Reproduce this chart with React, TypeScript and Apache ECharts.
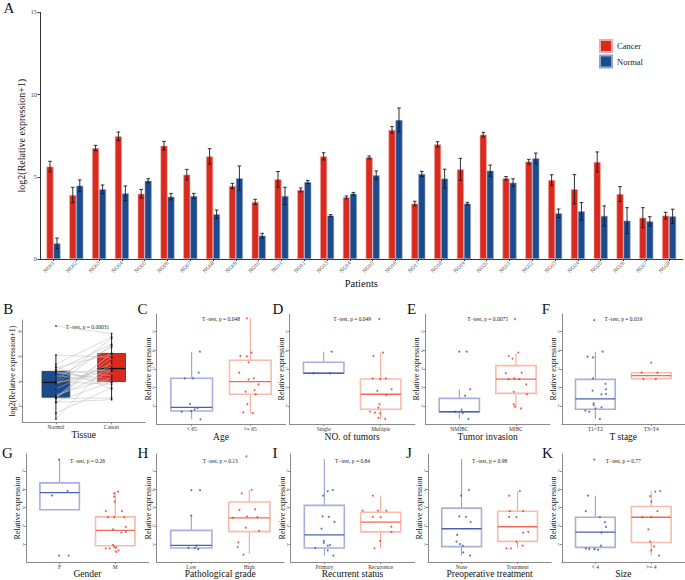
import React, { useEffect, useRef } from "react";
import * as echarts from "echarts";

const FONT = "'Liberation Serif', 'DejaVu Serif', serif";

// ---------- Panel A data ----------
const patients = ["NO01","NO02","NO03","NO04","NO05","NO06","NO07","NO08","NO09","NO10","NO11","NO12","NO13","NO14","NO15","NO16","NO17","NO18","NO19","NO20","NO21","NO22","NO23","NO24","NO25","NO26","NO27","NO28"];
const cancerMean = [5.62, 3.89, 6.75, 7.46, 3.97, 6.89, 5.13, 6.24, 4.44, 3.47, 4.85, 4.20, 6.24, 3.75, 6.18, 7.85, 3.37, 6.97, 5.45, 7.56, 4.91, 5.92, 4.80, 4.24, 5.90, 3.95, 2.51, 2.64];
const cancerErr = [0.32, 0.47, 0.16, 0.26, 0.26, 0.26, 0.32, 0.47, 0.16, 0.16, 0.47, 0.12, 0.22, 0.08, 0.08, 0.20, 0.14, 0.16, 0.67, 0.14, 0.10, 0.14, 0.32, 0.89, 0.61, 0.45, 0.61, 0.20];
const normalMean = [0.95, 4.46, 4.24, 3.99, 4.76, 3.79, 3.83, 2.72, 4.91, 1.42, 3.83, 4.68, 2.64, 3.97, 5.09, 8.45, 5.17, 4.89, 3.37, 5.37, 4.64, 6.12, 2.78, 2.90, 2.62, 2.33, 2.29, 2.60];
const normalErr = [0.32, 0.35, 0.26, 0.45, 0.12, 0.20, 0.16, 0.26, 0.75, 0.14, 0.53, 0.10, 0.06, 0.08, 0.26, 0.73, 0.16, 0.57, 0.08, 0.34, 0.24, 0.32, 0.26, 0.53, 0.61, 0.79, 0.28, 0.43];
const aTicks = [0, 5, 10, 15];

// ---------- Panel B ----------
const tissueGroups = ["Normal", "Cancer"];
const tissueTicks = [2, 4, 6, 8];

// ---------- Panels C-K: box stats [min, Q1, median, Q3, max] and points [x, y] ----------
const ageGroups = ["< 65", ">= 65"];
const ageBoxes = [[0.28, 0.73, 0.93, 2.49, 3.92], [0.61, 1.63, 2.31, 3.46, 5.71]];
const ageLowPts = [[1.14,3.92],[1.12,2.79],[0.88,2.49],[1.02,2.49],[0.97,1.11],[0.83,0.69],[1.05,0.82],[1.10,0.88],[0.99,0.72],[1.15,0.28]];
const ageHighPts = [[1.94,5.71],[1.83,3.70],[1.94,3.67],[2.02,3.87],[1.97,3.35],[1.81,2.79],[1.97,2.43],[2.06,2.49],[1.92,1.77],[2.07,1.86],[2.14,2.16],[2.09,1.63],[1.95,1.10],[1.88,0.66],[2.04,0.61]];

const tumorGroups = ["Single", "Multiple"];
const tumorBoxes = [[2.76, 2.76, 2.76, 3.35, 3.92], [0.30, 0.82, 1.63, 2.45, 3.87]];
const tumorSinglePts = [[1.14,3.92],[0.82,2.76],[1.11,2.76]];
const tumorMultiPts = [[1.975,5.68],[1.87,3.69],[2.04,3.87],[1.86,2.49],[1.99,2.45],[2.09,2.49],[1.94,1.81],[2.19,1.90],[2.10,1.59],[1.98,1.09],[1.96,0.91],[1.81,0.70],[1.90,0.64],[1.99,0.60],[2.08,0.30],[1.96,0.36]];

const invasionGroups = ["NMIBC", "MIBC"];
const invasionBoxes = [[0.30, 0.69, 0.69, 1.41, 1.90], [0.87, 1.68, 2.45, 3.17, 3.83]];
const invasionNmibcPts = [[1.00,3.92],[1.13,3.92],[1.19,1.90],[1.10,1.55],[1.04,0.80],[1.06,0.62],[0.92,0.69],[1.16,0.30]];
const invasionMibcPts = [[1.98,5.68],[1.87,3.69],[2.04,3.87],[1.94,3.55],[1.82,2.76],[2.10,2.79],[1.87,2.45],[1.97,2.49],[2.06,2.45],[2.18,2.16],[1.96,1.77],[2.19,1.63],[1.96,1.09],[1.98,0.96],[2.09,0.87]];

const stageGroups = ["T1~T2", "T3~T4"];
const stageBoxes = [[0.30, 0.82, 1.38, 2.43, 3.92], [2.45, 2.47, 2.63, 2.79, 2.79]];
const stageLowPts = [[0.98,5.62],[0.86,3.65],[0.96,3.61],[1.13,3.92],[0.96,2.49],[1.18,2.19],[0.95,1.83],[1.19,1.90],[1.11,1.63],[1.19,1.65],[0.97,1.14],[0.97,1.05],[1.11,0.93],[1.00,0.87],[0.82,0.75],[0.89,0.69],[1.08,0.30]];
const stageHighPts = [[2.00,3.33],[1.83,2.79],[2.11,2.79],[1.86,2.45],[2.08,2.45]];

const genderGroups = ["F", "M"];
const genderBoxes = [[2.88, 2.88, 3.82, 4.35, 5.62], [0.57, 0.91, 1.75, 2.49, 3.87]];
const genderFPts = [[0.99,5.62],[0.86,3.66],[1.14,3.91],[0.99,0.37],[1.16,0.37]];
const genderMPts = [[2.05,3.87],[1.98,3.78],[1.98,3.60],[1.99,3.33],[1.83,2.80],[2.12,2.80],[1.87,2.47],[1.98,2.47],[2.16,2.47],[2.19,1.94],[1.96,1.81],[2.11,1.63],[2.19,1.67],[1.96,0.96],[1.98,0.84],[1.83,0.77],[1.90,0.77],[2.02,0.82],[2.06,0.66],[2.02,0.57]];

const gradeGroups = ["Low", "High"];
const gradeBoxes = [[0.79, 0.79, 0.93, 1.75, 2.56], [0.46, 1.68, 2.44, 3.30, 3.96]];
const gradeLowPts = [[1.00,3.95],[1.15,3.95],[1.00,2.56],[1.09,0.91],[1.06,0.79],[0.95,0.80],[1.12,0.72]];
const gradeHighPts = [[1.95,5.80],[1.87,3.78],[2.04,3.96],[1.83,2.87],[2.10,2.90],[1.72,2.44],[1.96,2.50],[2.14,2.47],[1.94,1.90],[2.17,1.72],[1.81,1.09],[1.80,0.83],[1.90,0.42]];

const recurGroups = ["Primary", "Recurrence"];
const recurBoxes = [[0.37, 0.79, 1.50, 3.12, 5.66], [0.77, 1.67, 2.20, 2.74, 3.65]];
const recurPrimaryPts = [[0.98,3.65],[1.06,3.90],[1.15,3.96],[0.97,2.52],[1.08,2.49],[1.18,2.22],[0.95,1.84],[0.99,1.18],[0.99,1.06],[1.06,0.91],[1.10,0.95],[0.84,0.78],[1.06,0.66],[1.16,0.37]];
const recurRecurPts = [[1.86,3.65],[1.68,2.83],[1.95,2.83],[2.10,2.83],[1.86,2.49],[2.00,2.47],[2.19,1.95],[2.19,1.67],[1.99,1.18],[1.89,0.77]];

const treatGroups = ["None", "Treatment"];
const treatBoxes = [[0.37, 0.86, 1.84, 2.97, 5.66], [0.77, 1.15, 1.95, 2.80, 3.90]];
const treatNonePts = [[1.13,3.96],[0.99,3.65],[0.96,2.52],[1.08,2.49],[1.16,2.20],[0.92,1.50],[0.91,1.13],[0.97,1.00],[1.02,0.91],[1.03,0.55],[1.15,0.37]];
const treatYesPts = [[1.85,3.65],[2.04,3.90],[1.85,2.49],[1.98,2.47],[2.10,2.80],[1.86,2.80],[2.19,1.67],[2.10,1.63],[1.98,1.13],[2.09,0.91],[1.80,0.77],[1.88,0.77]];

const sizeGroups = ["< 4", ">= 4"];
const sizeBoxes = [[0.68, 0.82, 1.66, 2.47, 3.65], [0.37, 1.09, 2.47, 3.06, 3.90]];
const sizeSmallPts = [[0.98,5.62],[0.87,3.65],[0.83,2.80],[1.08,2.47],[1.17,2.20],[1.19,1.94],[1.11,1.63],[1.10,0.91],[0.83,0.76],[0.89,0.73],[0.98,0.73],[1.05,0.68]];
const sizeLargePts = [[2.16,3.90],[2.07,3.87],[1.98,3.63],[2.00,3.33],[2.11,2.80],[1.84,2.47],[2.00,2.49],[1.95,1.81],[1.98,1.13],[2.05,0.88],[2.00,0.65],[2.14,0.37]];

const smallTicks = [1, 2, 3, 4, 5];

// ---------- colours ----------
const RED = "#d92a1f";
const BLUE = "#1c4b8d";
const blueStyle = { edge: "#a9afdc", median: "#4d60ae", whisker: "#8f97d0", point: "#3f55a5", fill: "#ffffff" };
const redStyle = { edge: "#f6bcad", median: "#ef6b55", whisker: "#f3a08d", point: "#e5392b", fill: "#ffffff" };

function quantile(s: number[], p: number) {
  const h = (s.length - 1) * p;
  const lo = Math.floor(h);
  const hiV = s[Math.min(lo + 1, s.length - 1)];
  return s[lo] + (h - lo) * (hiV - s[lo]);
}
function boxStats(vals: number[]) {
  const s = [...vals].sort((a, b) => a - b);
  const q1 = quantile(s, 0.25), med = quantile(s, 0.5), q3 = quantile(s, 0.75);
  const iqr = q3 - q1;
  const lo = s.find((v) => v >= q1 - 1.5 * iqr) as number;
  const hi = [...s].reverse().find((v) => v <= q3 + 1.5 * iqr) as number;
  return [lo, q1, med, q3, hi];
}

function boxRenderer(boxWidth: number, styles: any[], lw: number) {
  return (params: any, api: any) => {
    const x = api.value(0);
    const st = styles[params.dataIndex];
    const pLo = api.coord([x, api.value(1)]);
    const pQ1 = api.coord([x, api.value(2)]);
    const pMed = api.coord([x, api.value(3)]);
    const pQ3 = api.coord([x, api.value(4)]);
    const pHi = api.coord([x, api.value(5)]);
    const hw = api.size([boxWidth, 0])[0] / 2;
    const ws = { stroke: st.whisker, lineWidth: 1 };
    return {
      type: "group",
      children: [
        { type: "line", shape: { x1: pHi[0], y1: pHi[1], x2: pQ3[0], y2: pQ3[1] }, style: ws },
        { type: "line", shape: { x1: pQ1[0], y1: pQ1[1], x2: pLo[0], y2: pLo[1] }, style: ws },
        { type: "rect", shape: { x: pQ3[0] - hw, y: pQ3[1], width: hw * 2, height: Math.max(pQ1[1] - pQ3[1], 0.5) }, style: { fill: st.fill, stroke: st.edge, lineWidth: lw } },
        { type: "line", shape: { x1: pMed[0] - hw, y1: pMed[1], x2: pMed[0] + hw, y2: pMed[1] }, style: { stroke: st.median, lineWidth: 1.3 } },
      ],
    };
  };
}

function errRenderer(dx: number) {
  return (params: any, api: any) => {
    const x = api.value(0), v = api.value(1), e = api.value(2);
    const t = api.coord([x, v + e]);
    const b = api.coord([x, v - e]);
    const cx = t[0] + dx;
    const style = { stroke: "#1a1a1a", lineWidth: 0.9 };
    return {
      type: "group",
      children: [
        { type: "line", shape: { x1: cx, y1: t[1], x2: cx, y2: b[1] }, style },
        { type: "line", shape: { x1: cx - 1.8, y1: t[1], x2: cx + 1.8, y2: t[1] }, style },
        { type: "line", shape: { x1: cx - 1.8, y1: b[1], x2: cx + 1.8, y2: b[1] }, style },
      ],
    };
  };
}

// layout of small panels
const smallPanels = [
  { letter: "C", groups: ageGroups, boxes: ageBoxes, p1: ageLowPts, p2: ageHighPts, title: "Age", p: "0.048", left: 156.5, width: 129, row: 0 },
  { letter: "D", groups: tumorGroups, boxes: tumorBoxes, p1: tumorSinglePts, p2: tumorMultiPts, title: "NO. of tumors", p: "0.049", left: 289.5, width: 125.4, row: 0 },
  { letter: "E", groups: invasionGroups, boxes: invasionBoxes, p1: invasionNmibcPts, p2: invasionMibcPts, title: "Tumor invasion", p: "0.0075", left: 425.3, width: 124.7, row: 0 },
  { letter: "F", groups: stageGroups, boxes: stageBoxes, p1: stageLowPts, p2: stageHighPts, title: "T stage", p: "0.019", left: 561.8, width: 123, row: 0 },
  { letter: "G", groups: genderGroups, boxes: genderBoxes, p1: genderFPts, p2: genderMPts, title: "Gender", p: "0.26", left: 26.3, width: 122.3, row: 1 },
  { letter: "H", groups: gradeGroups, boxes: gradeBoxes, p1: gradeLowPts, p2: gradeHighPts, title: "Pathological grade", p: "0.13", left: 156.5, width: 127.6, row: 1 },
  { letter: "I", groups: recurGroups, boxes: recurBoxes, p1: recurPrimaryPts, p2: recurRecurPts, title: "Recurrent status", p: "0.84", left: 290.5, width: 124, row: 1 },
  { letter: "J", groups: treatGroups, boxes: treatBoxes, p1: treatNonePts, p2: treatYesPts, title: "Preoperative treatment", p: "0.98", left: 428, width: 123.2, row: 1 },
  { letter: "K", groups: sizeGroups, boxes: sizeBoxes, p1: sizeSmallPts, p2: sizeLargePts, title: "Size", p: "0.77", left: 561.8, width: 123, row: 1 },
];
const rows = [
  { top: 314, height: 110, min: 0.03, max: 5.95, letterY: 308.5, pY: 318.5, nameGap: 7.5 },
  { top: 454, height: 110.5, min: 0.02, max: 5.93, letterY: 453, pY: 461, nameGap: 7 },
];
const letterX: Record<string, number> = { C: 142.5, D: 278, E: 411.7, F: 546, G: 7.5, H: 143, I: 275, J: 409, K: 547.5 };

function smallXAxis(gridIndex: number, groups: string[], title: string, nameGap: number) {
  return {
    gridIndex, type: "value", min: 0.4, max: 2.6,
    name: title, nameLocation: "middle", nameGap, nameMoveOverlap: false,
    nameTextStyle: { fontFamily: FONT, fontSize: 9.5, color: "#111" },
    axisLine: { show: true, lineStyle: { color: "#8a8a8a", width: 1 } },
    axisTick: { show: true, length: 2, customValues: [1, 2], lineStyle: { color: "#8a8a8a" } },
    axisLabel: { customValues: [1, 2], formatter: (v: number) => groups[Math.round(v) - 1], fontFamily: FONT, fontSize: 5.5, color: "#333", margin: 1.5 },
    splitLine: { show: false },
  };
}
function smallYAxis(gridIndex: number, min: number, max: number, ticks: number[], name: string, nameGap: number) {
  return {
    gridIndex, type: "value", min, max,
    name, nameLocation: "middle", nameGap, nameMoveOverlap: false,
    nameTextStyle: { fontFamily: FONT, fontSize: 8, color: "#111" },
    axisLine: { show: true, lineStyle: { color: "#8a8a8a", width: 1 } },
    axisTick: { show: true, length: 2, customValues: ticks, lineStyle: { color: "#8a8a8a" } },
    axisLabel: { customValues: ticks, fontFamily: FONT, fontSize: 4.5, color: "#555", margin: 2 },
    splitLine: { show: false },
  };
}

function buildOption() {
  const grid: any[] = [];
  const xAxis: any[] = [];
  const yAxis: any[] = [];
  const series: any[] = [];
  const graphic: any[] = [];

  // ----- A -----
  grid.push({ left: 39.8, top: 12.3, width: 643, height: 246.7 });
  const idxTicks = patients.map((_, i) => i + 1);
  xAxis.push({
    gridIndex: 0, type: "value", min: 0.4, max: 28.6,
    name: "Patients", nameLocation: "middle", nameGap: 19, nameMoveOverlap: false,
    nameTextStyle: { fontFamily: FONT, fontSize: 10.5, color: "#111" },
    axisLine: { show: true, lineStyle: { color: "#333", width: 1 } },
    axisTick: { show: true, length: 2, customValues: idxTicks, lineStyle: { color: "#333" } },
    axisLabel: { customValues: idxTicks, formatter: (v: number) => patients[Math.round(v) - 1], rotate: 45, fontFamily: FONT, fontSize: 5.5, color: "#444", margin: 3 },
    splitLine: { show: false },
  });
  yAxis.push({
    gridIndex: 0, type: "value", min: 0, max: 15,
    name: "log2(Relative expression+1)", nameLocation: "middle", nameGap: 13, nameMoveOverlap: false,
    nameTextStyle: { fontFamily: FONT, fontSize: 10, color: "#111" },
    axisLine: { show: true, lineStyle: { color: "#333", width: 1 } },
    axisTick: { show: true, length: 2.5, customValues: aTicks, lineStyle: { color: "#333" } },
    axisLabel: { customValues: aTicks, fontFamily: FONT, fontSize: 6, color: "#444", margin: 3 },
    splitLine: { show: false },
  });
  series.push({
    type: "bar", name: "Cancer", xAxisIndex: 0, yAxisIndex: 0, barWidth: 7, barGap: "0%",
    data: cancerMean.map((v, i) => [i + 1, v]),
    itemStyle: { color: RED, borderColor: "#f1aaa2", borderWidth: 0.6 },
  });
  series.push({
    type: "bar", name: "Normal", xAxisIndex: 0, yAxisIndex: 0, barWidth: 7, barGap: "0%",
    data: normalMean.map((v, i) => [i + 1, v]),
    itemStyle: { color: BLUE, borderColor: "#8ea7cc", borderWidth: 0.6 },
  });
  series.push({ type: "custom", xAxisIndex: 0, yAxisIndex: 0, z: 5, data: cancerMean.map((v, i) => [i + 1, v, cancerErr[i]]), renderItem: errRenderer(-3.5) });
  series.push({ type: "custom", xAxisIndex: 0, yAxisIndex: 0, z: 5, data: normalMean.map((v, i) => [i + 1, v, normalErr[i]]), renderItem: errRenderer(3.5) });
  graphic.push({ type: "text", x: 9, y: 8, style: { text: "A", font: `15px ${FONT}`, fill: "#111", textAlign: "center", textVerticalAlign: "middle" } });

  // ----- B -----
  grid.push({ left: 22.5, top: 320, width: 122.5, height: 102.3 });
  xAxis.push(smallXAxis(1, tissueGroups, "Tissue", 7.5));
  yAxis.push(smallYAxis(1, 0.68, 8.94, tissueTicks, "log2(Relative expression+1)", 6));
  const nStats = boxStats(normalMean);
  const cStats = boxStats(cancerMean);
  series.push({
    type: "custom", xAxisIndex: 1, yAxisIndex: 1, z: 2,
    data: [[1, ...nStats], [2, ...cStats]],
    renderItem: boxRenderer(0.5, [
      { edge: "#3a3a3a", median: "#111", whisker: "#222", fill: BLUE },
      { edge: "#3a3a3a", median: "#111", whisker: "#222", fill: RED },
    ], 0.8),
  });
  series.push({
    type: "lines", coordinateSystem: "cartesian2d", xAxisIndex: 1, yAxisIndex: 1, z: 3,
    data: normalMean.map((n, i) => ({ coords: [[1, n], [2, cancerMean[i]]] })),
    lineStyle: { color: "#b8b8b8", width: 0.5, opacity: 1 },
  });
  series.push({
    type: "scatter", xAxisIndex: 1, yAxisIndex: 1, z: 4, symbolSize: 1.8,
    data: [...normalMean.map((v) => [1, v]), ...cancerMean.map((v) => [2, v])],
    itemStyle: { color: "#111" },
  });
  graphic.push({ type: "text", x: 8.3, y: 308.5, style: { text: "B", font: `15px ${FONT}`, fill: "#111", textAlign: "center", textVerticalAlign: "middle" } });
  graphic.push({ type: "text", x: 87.5, y: 326.7, style: { text: "T\u2212test, p = 0.00031", font: `5.5px ${FONT}`, fill: "#222", textAlign: "center", textVerticalAlign: "middle" } });

  // ----- C-K -----
  smallPanels.forEach((pn, k) => {
    const gi = k + 2;
    const r = rows[pn.row];
    grid.push({ left: pn.left, top: r.top, width: pn.width, height: r.height });
    xAxis.push(smallXAxis(gi, pn.groups, pn.title, r.nameGap));
    yAxis.push(smallYAxis(gi, r.min, r.max, smallTicks, "Relative expression", 4.5));
    series.push({
      type: "custom", xAxisIndex: gi, yAxisIndex: gi, z: 2,
      data: [[1, ...pn.boxes[0]], [2, ...pn.boxes[1]]],
      renderItem: boxRenderer(0.71, [blueStyle, redStyle], 1.6),
    });
    series.push({ type: "scatter", xAxisIndex: gi, yAxisIndex: gi, z: 4, symbolSize: 2, data: pn.p1, itemStyle: { color: blueStyle.point } });
    series.push({ type: "scatter", xAxisIndex: gi, yAxisIndex: gi, z: 4, symbolSize: 2, data: pn.p2, itemStyle: { color: redStyle.point } });
    graphic.push({ type: "text", x: letterX[pn.letter], y: r.letterY, style: { text: pn.letter, font: `15px ${FONT}`, fill: "#111", textAlign: "center", textVerticalAlign: "middle" } });
    graphic.push({ type: "text", x: pn.left + pn.width / 2, y: r.pY, style: { text: `T\u2212test, p = ${pn.p}`, font: `5.5px ${FONT}`, fill: "#222", textAlign: "center", textVerticalAlign: "middle" } });
  });

  return {
    animation: false,
    backgroundColor: "#ffffff",
    textStyle: { fontFamily: FONT },
    legend: {
      data: ["Cancer", "Normal"], orient: "vertical", left: 599, top: 39, padding: 0,
      itemWidth: 12, itemHeight: 12, itemGap: 1.5, icon: "rect",
      textStyle: { fontFamily: FONT, fontSize: 8.5, color: "#222" },
      selectedMode: false,
    },
    grid, xAxis, yAxis, series, graphic,
  };
}

export default function App() {
  const ref = useRef<HTMLDivElement>(null);
  useEffect(() => {
    const chart = echarts.init(ref.current as HTMLDivElement, null, { renderer: "svg" });
    chart.setOption(buildOption() as any);
    return () => chart.dispose();
  }, []);
  return <div ref={ref} style={{ position: "absolute", left: 0, top: 0, width: 685, height: 580 }} />;
}
